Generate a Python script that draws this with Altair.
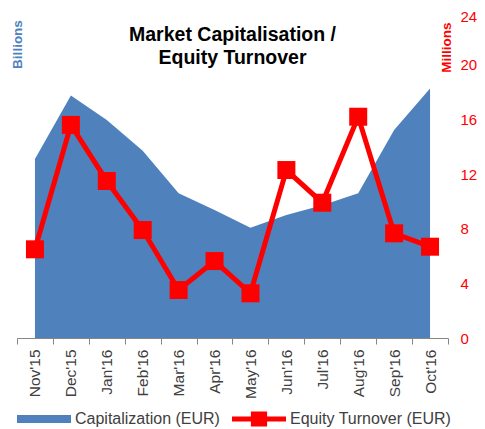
import altair as alt
import pandas as pd

months = ["Nov'15", "Dec'15", "Jan'16", "Feb'16", "Mar'16", "Apr'16",
          "May'16", "Jun'16", "Jul'16", "Aug'16", "Sep'16", "Oct'16"]
capitalization_bn = [5.46, 7.39, 6.65, 5.71, 4.41, 3.90, 3.36, 3.75, 4.05, 4.41, 6.34, 7.61]
turnover_mn = [6.49, 15.59, 11.49, 7.90, 3.51, 5.63, 3.27, 12.29, 9.90, 16.19, 7.66, 6.68]
left_ticks = list(range(0, 11))
right_ticks = [0, 4, 8, 12, 16, 20, 24]
title_lines = ["Market Capitalisation /", "Equity Turnover"]
series_names = ["Capitalization (EUR)", "Equity Turnover (EUR)"]

BLUE = "#4f81bd"
RED = "#ff0000"
FONT = "Liberation Sans"

df = pd.DataFrame({
    "month": months,
    "cap": capitalization_bn,
    "turn": turnover_mn,
    "s1": series_names[0],
    "s2": series_names[1],
})

x_enc = alt.X(
    "month:N", sort=months, bandPosition=0.5,
    scale=alt.Scale(type="band", paddingInner=0, paddingOuter=0),
    axis=alt.Axis(title=None, labelAngle=270, tickBand="extent",
                  domainColor="#868686", tickColor="#868686", tickSize=6,
                  labelPadding=5, labelFontSize=15.5, labelColor="#404040",
                  labelFont=FONT, grid=False),
)

base = alt.Chart(df)

area = base.mark_area(color=BLUE, opacity=1).encode(
    x=x_enc,
    y=alt.Y("cap:Q", scale=alt.Scale(domain=[0, 10], nice=False),
            axis=alt.Axis(orient="left", values=left_ticks, title="Billions",
                          titleAngle=270, titleX=0.5, titleY=34,
                          titleAlign="center", titleBaseline="middle",
                          titleColor=BLUE, titleFontSize=13.5, titleFontWeight="bold",
                          titleFont=FONT, domain=False, ticks=False, grid=False,
                          labels=False)),
    color=alt.Color("s1:N", scale=alt.Scale(domain=[series_names[0]], range=[BLUE]),
                    legend=alt.Legend(orient="none", legendX=0, legendY=382,
                                      title=None, padding=0,
                                      symbolType="M-1,-0.148L1,-0.148L1,0.148L-1,0.148Z",
                                      symbolSize=2916, symbolStrokeWidth=0,
                                      symbolFillColor=BLUE, symbolOpacity=1,
                                      labelFontSize=16, labelColor="#404040",
                                      labelFont=FONT, labelOffset=4, labelLimit=300)),
)

line = base.mark_line(
    strokeWidth=5,
    point=alt.OverlayMarkDef(shape="square", size=324, filled=True, opacity=1, color=RED),
).encode(
    x=x_enc,
    y=alt.Y("turn:Q", scale=alt.Scale(domain=[0, 24], nice=False),
            axis=alt.Axis(orient="right", values=right_ticks, title="Millions",
                          titleAngle=270, titleX=-2, titleY=37,
                          titleAlign="center", titleBaseline="middle",
                          titleColor=RED, titleFontSize=13.5, titleFontWeight="bold",
                          titleFont=FONT, domain=False, ticks=False, grid=False,
                          labelPadding=12, labelColor=RED, labelFontSize=15,
                          labelOffset={"condition": {"test": "datum.value == 24", "value": 6}, "value": 0},
                          labelFont=FONT)),
    color=alt.Color("s2:N", scale=alt.Scale(domain=[series_names[1]], range=[RED]),
                    legend=alt.Legend(orient="none", legendX=215, legendY=382,
                                      title=None, padding=0,
                                      symbolType="M-1,-0.093L1,-0.093L1,0.093L-1,0.093Z M-0.3,-0.28L0.3,-0.28L0.3,0.28L-0.3,0.28Z",
                                      symbolSize=2916, symbolStrokeWidth=0,
                                      symbolFillColor=RED, symbolOpacity=1,
                                      labelFontSize=16, labelColor="#404040",
                                      labelFont=FONT, labelOffset=4, labelLimit=300)),
)

title = alt.Chart(alt.Data(values=[{"t": 1}])).mark_text(
    text=title_lines, font=FONT, fontSize=19.5, fontWeight="bold", color="black",
    align="center", baseline="alphabetic", lineHeight=23,
).encode(x=alt.value(215.5), y=alt.value(30.7))

chart = alt.layer(area, line, title).resolve_scale(
    y="independent", color="independent"
).resolve_legend(color="independent").properties(
    width=431, height=328,
    padding={"left": 9, "top": 2, "right": 29, "bottom": 91},
    autosize=alt.AutoSizeParams(type="none"),
    background="white",
).configure_view(stroke=None)

chart.save("out.html", embed_options={"renderer": "svg", "actions": False})
